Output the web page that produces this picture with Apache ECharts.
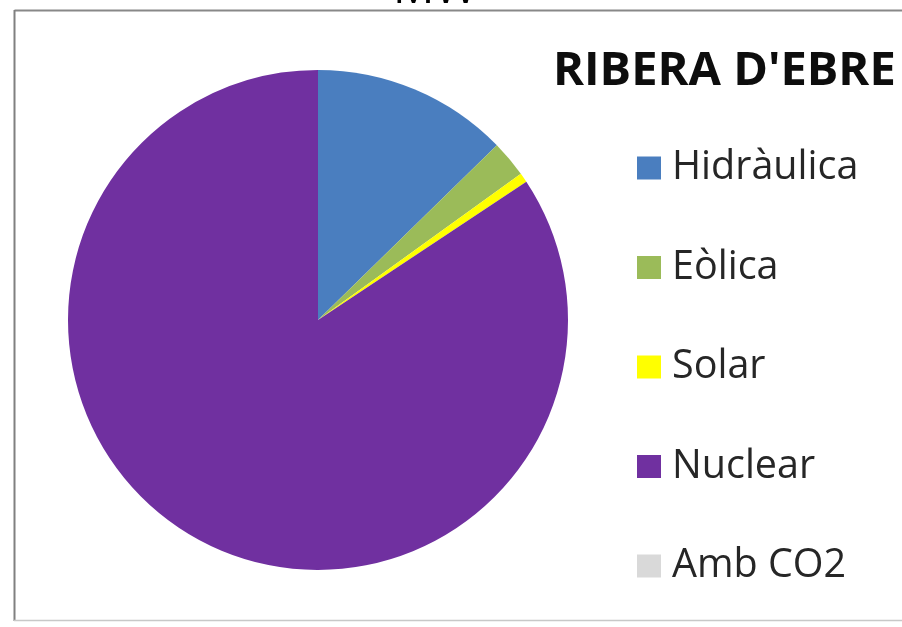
<!DOCTYPE html>
<html>
<head>
<meta charset="utf-8">
<title>RIBERA D'EBRE</title>
<script src="https://cdn.jsdelivr.net/npm/echarts@6/dist/echarts.min.js"></script>
<style>
  html, body { margin: 0; padding: 0; background: #ffffff; }
  #chart { width: 902px; height: 627px; }
</style>
</head>
<body>
<div id="chart"></div>
<script>
// Installed capacity by source (MW), Ribera d'Ebre
const categories = ['Hidràulica', 'Eòlica', 'Solar', 'Nuclear', 'Amb CO2'];
const capacityMW = [310, 58, 15, 2060, 0];
const sliceColors = ['#4A7EBF', '#9BBB59', '#FFFF00', '#7030A0', '#D9D9D9'];
const chartTitle = "RIBERA D'EBRE";
const unitLabel = 'MW';

const FONT = '"Open Sans", "Liberation Sans", sans-serif';

const chart = echarts.init(document.getElementById('chart'), null, { renderer: 'canvas' });

chart.setOption({
  backgroundColor: '#ffffff',
  animation: false,
  color: sliceColors,
  title: {
    text: chartTitle,
    left: 553,
    top: 48,
    padding: 0,
    textStyle: { fontFamily: FONT, fontWeight: 'bold', fontSize: 47, color: '#0d0d0d' }
  },
  legend: {
    orient: 'vertical',
    left: 637,
    top: 148,
    padding: 0,
    itemWidth: 24,
    itemHeight: 23,
    itemGap: 59.5,
    icon: 'rect',
    selectedMode: false,
    data: categories,
    textStyle: { fontFamily: FONT, fontSize: 39.5, color: '#262626', padding: [0, 0, 0, 6] }
  },
  graphic: [
    // unit caption above the frame, partially clipped by the page edge
    {
      type: 'text',
      x: 435, y: -10,
      style: { text: unitLabel, fill: '#000000', font: '46px ' + FONT, textAlign: 'center', textVerticalAlign: 'middle' }
    },
    // chart frame
    { type: 'line', shape: { x1: 14.5, y1: 10.5, x2: 902, y2: 10.5 }, style: { stroke: '#888888', lineWidth: 2 } },
    { type: 'line', shape: { x1: 14.5, y1: 10, x2: 14.5, y2: 621 }, style: { stroke: '#808080', lineWidth: 2 } },
    { type: 'line', shape: { x1: 14, y1: 620.5, x2: 902, y2: 620.5 }, style: { stroke: '#c8c8c8', lineWidth: 1.5 } }
  ],
  series: [{
    type: 'pie',
    center: [318, 320],
    radius: 250,
    startAngle: 90,
    clockwise: true,
    label: { show: false },
    labelLine: { show: false },
    emphasis: { disabled: true },
    itemStyle: { borderWidth: 0 },
    data: categories.map((name, i) => ({ name, value: capacityMW[i] }))
  }]
});
</script>
</body>
</html>
